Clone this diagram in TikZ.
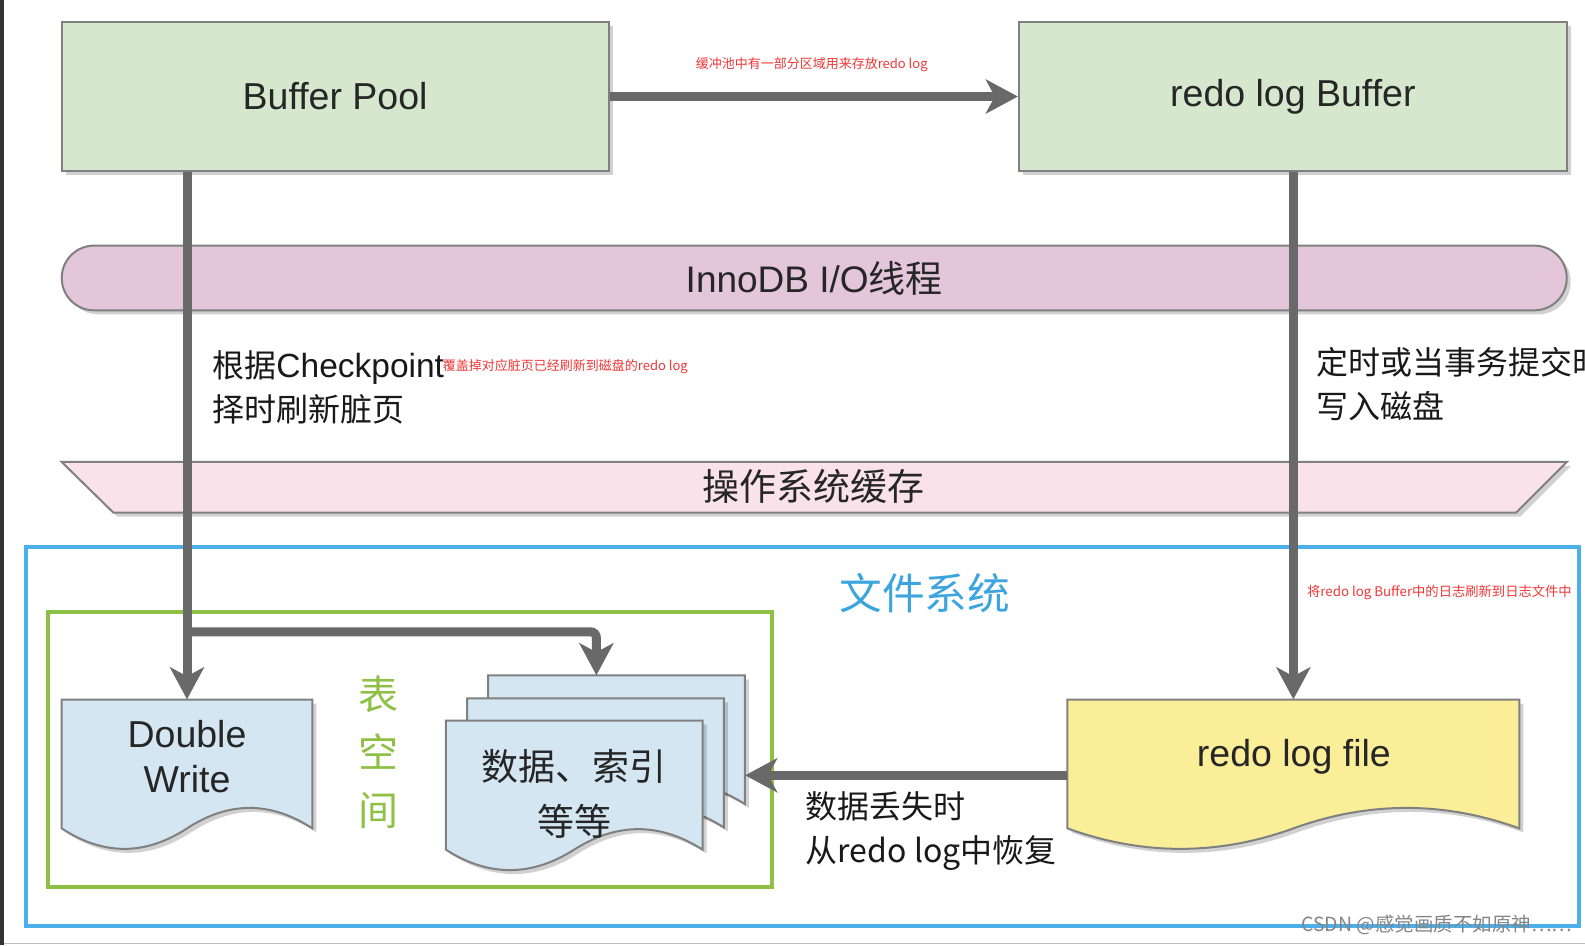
\documentclass[tikz,border=0pt]{standalone}
\usepackage{fontspec}
\setmainfont{Liberation Sans}
\newfontfamily\cjk{Noto Sans CJK SC}
\newfontfamily\hv{Liberation Sans}
\usetikzlibrary{arrows.meta,calc,shadows}
\definecolor{bpgreen}{RGB}{213,232,206}
\definecolor{iopink}{RGB}{228,198,219}
\definecolor{ospink}{RGB}{250,226,234}
\definecolor{docblue}{RGB}{212,230,242}
\definecolor{logyellow}{RGB}{250,238,152}
\definecolor{edgegray}{RGB}{128,128,128}
\definecolor{conngray}{RGB}{105,105,105}
\definecolor{fsblue}{RGB}{75,175,235}
\definecolor{fstext}{RGB}{60,165,222}
\definecolor{tsgreen}{RGB}{141,192,68}
\definecolor{notered}{RGB}{240,55,55}
\newcommand\docshape[5]{%
  \filldraw[#5] (#1,#2) -- (#1+#3,#2) -- (#1+#3,#2+0.85*#4)
    .. controls (#1+5*#3/6,#2+0.67*#4) and (#1+2*#3/3,#2+0.67*#4) .. (#1+#3/2,#2+0.85*#4)
    .. controls (#1+#3/3,#2+1.03*#4) and (#1+#3/6,#2+1.03*#4) .. (#1,#2+0.85*#4) -- cycle;}
\tikzset{
  shd/.style={drop shadow={shadow xshift=4pt,shadow yshift=-4pt,opacity=0.18,fill=black}},
  box/.style={draw=edgegray,line width=2pt,shd,font=\fontsize{37.5}{46}\selectfont,text=black!85,inner sep=0pt},
  docstyle/.style={draw=edgegray,line width=2pt,shd},
  holder/.style={draw=none,inner sep=0pt},
  plaintext/.style={font=\fontsize{37.5}{45}\selectfont,text=black!85,inner sep=0pt,align=center},
  conn/.style={draw=conngray,line width=9pt,-{Stealth[length=32pt,width=34pt,inset=9pt]}},
  bigcjk/.style={font=\cjk\fontsize{37}{44}\selectfont,text=black!85,inner sep=0pt},
  lbl/.style={font=\cjk\fontsize{32}{44}\selectfont,text=black!90,align=left,inner sep=0pt,anchor=west},
  note/.style={font=\cjk\fontsize{13}{16}\selectfont,text=notered,inner sep=0pt},
}
\begin{document}
\begin{tikzpicture}[x=1.01084pt,y=-1.01084pt]
\useasboundingbox (0,0) rectangle (1568,935);
\clip (0,0) rectangle (1568,935);
\fill[white] (0,0) rectangle (1568,935);
\fill[black!80] (0,0) rectangle (4,935);
\draw[black!25,line width=1pt] (4,933) -- (1568,933);

% frames
\draw[fsblue,line width=4pt] (26,541) rectangle (1562,916);
\node[font=\cjk\fontsize{42.7}{50}\selectfont,text=fstext,inner sep=0pt] (fs) at (915,587) {文件系统};
\draw[tsgreen,line width=4pt] (47,605) rectangle (764,877);
\node[font=\cjk\fontsize{40}{58}\selectfont,text=tsgreen,align=center,inner sep=0pt] (ts) at (374,744) {表\\空\\间};

% top boxes
\node[box,fill=bpgreen,minimum width=547pt,minimum height=148.6pt] (bp) at (331.5,95.5) {Buffer Pool};
\node[box,fill=bpgreen,minimum width=548pt,minimum height=148.6pt] (rlb) at (1279,95.5) {redo log Buffer};

% InnoDB I/O thread capsule
\node[draw=edgegray,line width=2pt,shd,fill=iopink,rounded corners=32.3pt,minimum width=1505pt,minimum height=64.7pt,inner sep=0pt,
      font=\fontsize{37}{44}\selectfont,text=black!85] (io) at (805.5,275) {InnoDB I/O{\cjk 线程}};

% OS cache trapezoid
\filldraw[draw=edgegray,line width=2pt,fill=ospink,shd] (61,457) -- (1550,457) -- (1500,507) -- (112,507) -- cycle;
\node[bigcjk] (os) at (805,481) {操作系统缓存};

% documents
\docshape{61}{692}{248}{150}{docstyle,fill=docblue}
\node[holder,minimum width=250.7pt,minimum height=151.6pt] (dw) at (185,767) {};
\node[plaintext] (dwt) at (185,748) {Double\\Write};

\docshape{483}{668}{254}{150}{docstyle,fill=docblue}
\docshape{462}{691}{254}{150}{docstyle,fill=docblue}
\docshape{441}{713}{254}{150}{docstyle,fill=docblue}
\node[holder,minimum width=256.7pt,minimum height=151.6pt] (stk) at (610,743) {};
\node[bigcjk,align=center,font=\cjk\fontsize{37}{55}\selectfont] (stkt) at (568,785) {数据、索引\\等等};
\coordinate (stkin) at (590,668);

\docshape{1056}{692}{447}{150}{docstyle,fill=logyellow}
\node[holder,minimum width=451.8pt,minimum height=151.6pt] (rlf) at (1279.5,767) {};
\node[plaintext] (rlft) at (1280,749) {redo log file};

% connectors
\draw[conn] (bp.east) -- (rlb.west);
\draw[conn] (bp.south -| dw.north) -- (dw.north);
\coordinate (br) at (185,625);
\draw[conn,rounded corners=6pt] (br) -- (br -| stkin) -- (stkin);
\draw[conn] (rlb.south -| rlf.north) -- (rlf.north);
\draw[conn] (rlf.west) -- (rlf.west -| stk.east);

% labels
\node[note] (n1) at (803,64) {缓冲池中有一部分区域用来存放redo log};
\node[lbl] (l1) at (210,383) {根据{\hv\fontsize{33.5}{44}\selectfont Checkpoint}\\择时刷新脏页};
\node[note,anchor=west] (n2) at (438,363) {覆盖掉对应脏页已经刷新到磁盘的redo log};
\node[lbl] (l2) at (1302,380) {定时或当事务提交时\\写入磁盘};
\node[note,font=\cjk\fontsize{13.3}{16}\selectfont] (n3) at (1424,586) {将redo log Buffer中的日志刷新到日志文件中};
\node[lbl] (l3) at (797,822) {数据丢失时\\从redo log中恢复};

% watermark
\node[font=\cjk\fontsize{19.5}{22}\selectfont,text=black!48,anchor=west,inner sep=0pt] (wm) at (1287,915) {CSDN @感觉画质不如原神……};
\end{tikzpicture}
\end{document}
